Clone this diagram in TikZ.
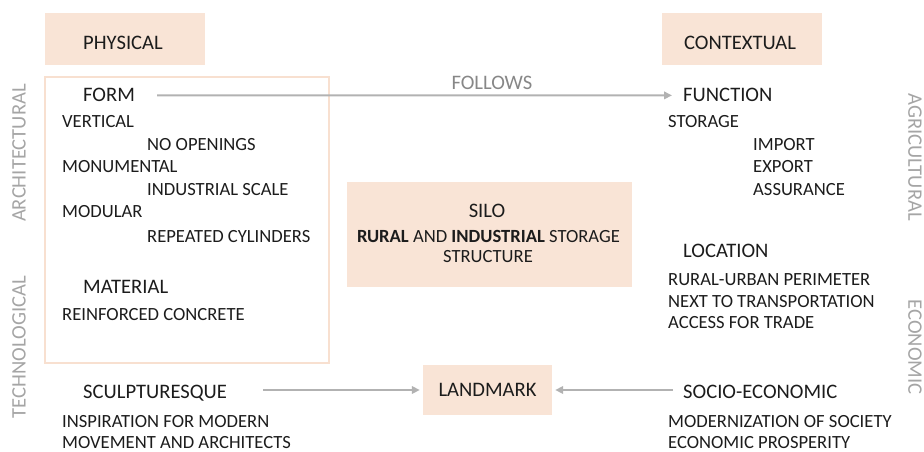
\documentclass[tikz,border=0pt]{standalone}
\usepackage{fontspec}
\setmainfont{Carlito}
\usetikzlibrary{arrows.meta}
\definecolor{peach}{RGB}{249,228,214}
\definecolor{framepeach}{RGB}{248,224,208}
\definecolor{ink}{RGB}{28,28,28}
\definecolor{linkgray}{RGB}{178,178,178}
\definecolor{sidegray}{RGB}{165,165,165}
\definecolor{labelgray}{RGB}{135,135,135}
\begin{document}
\begin{tikzpicture}[x=1pt,y=-1pt,
  head/.style={inner sep=0pt, anchor=base west, text=ink, font=\fontsize{20.6}{24}\selectfont},
  item/.style={inner sep=0pt, anchor=base west, text=ink, font=\fontsize{18.6}{22}\selectfont},
  pbox/.style={fill=peach, draw=none, inner sep=0pt},
  side/.style={inner sep=0pt, text=sidegray, font=\fontsize{20.6}{24}\selectfont},
  link/.style={draw=linkgray, line width=2.2pt, -{Triangle[length=8pt,width=7.5pt]}}]
\useasboundingbox (0,0) rectangle (924,452);

% category boxes
\node[pbox, minimum width=160pt, minimum height=52pt] (physbox) at (125,39) {};
\node[head, anchor=base] (physical) at (123,50) {PHYSICAL};
\node[pbox, minimum width=160pt, minimum height=52pt] (contbox) at (742,39) {};
\node[head, anchor=base] (contextual) at (740,50) {CONTEXTUAL};

% frame around the physical attributes
\node[draw=framepeach, line width=2pt, inner sep=0pt, minimum width=284pt, minimum height=286pt] (frame) at (187,220) {};

% side labels
\node[side, rotate=90] (arch) at (19,153) {ARCHITECTURAL};
\node[side, rotate=90] (tech) at (19,347) {TECHNOLOGICAL};
\node[side, rotate=-90] (agri) at (915,157) {AGRICULTURAL};
\node[side, rotate=-90] (econ) at (915,347) {ECONOMIC};

% physical column
\node[head] (form) at (83,102) {FORM};
\node[item] (vertical) at (62,127) {VERTICAL};
\node[item] (noopen) at (147,150) {NO OPENINGS};
\node[item] (monumental) at (62,172) {MONUMENTAL};
\node[item] (indscale) at (147,195) {INDUSTRIAL SCALE};
\node[item] (modular) at (62,217) {MODULAR};
\node[item] (repcyl) at (147,242) {REPEATED CYLINDERS};
\node[head] (material) at (83,293) {MATERIAL};
\node[item] (concrete) at (62,320) {REINFORCED CONCRETE};
\node[head] (sculpt) at (83,398) {SCULPTURESQUE};
\node[item] (inspire) at (62,427) {INSPIRATION FOR MODERN};
\node[item] (movement) at (62,448) {MOVEMENT AND ARCHITECTS};

% contextual column
\node[head] (function) at (683,102) {FUNCTION};
\node[item] (storage) at (668,127) {STORAGE};
\node[item] (import) at (753,150) {IMPORT};
\node[item] (export) at (753,172) {EXPORT};
\node[item] (assurance) at (753,195) {ASSURANCE};
\node[head] (location) at (683,257) {LOCATION};
\node[item] (perimeter) at (668,285) {RURAL-URBAN PERIMETER};
\node[item] (transport) at (668,307) {NEXT TO TRANSPORTATION};
\node[item] (trade) at (668,328) {ACCESS FOR TRADE};
\node[head] (socio) at (683,398) {SOCIO-ECONOMIC};
\node[item] (modern) at (668,427) {MODERNIZATION OF SOCIETY};
\node[item] (prosper) at (668,448) {ECONOMIC PROSPERITY};

% central silo definition
\node[pbox, minimum width=285pt, minimum height=105pt] (silobox) at (489.5,234.5) {};
\node[head, anchor=base] (silo) at (487,217) {SILO};
\node[item, anchor=base] (silodef) at (488.5,242) {\textbf{RURAL} AND \textbf{INDUSTRIAL} STORAGE};
\node[item, anchor=base] (silostruct) at (488,262) {STRUCTURE};

% landmark
\node[pbox, minimum width=129pt, minimum height=50pt, text=ink, font=\fontsize{20.6}{24}\selectfont] (landmark) at (487.5,390) {LANDMARK};

% connectors
\draw[link, shorten <=22pt, shorten >=11pt] (form.east) -- (function.west);
\node[inner sep=0pt, anchor=base, text=labelgray, font=\fontsize{20.6}{24}\selectfont] (follows) at (492,89) {FOLLOWS};
\draw[link, shorten <=36pt, shorten >=3pt] (sculpt.east |- landmark.west) -- (landmark.west);
\draw[link, shorten <=10pt, shorten >=3pt] (socio.west |- landmark.east) -- (landmark.east);
\end{tikzpicture}
\end{document}
